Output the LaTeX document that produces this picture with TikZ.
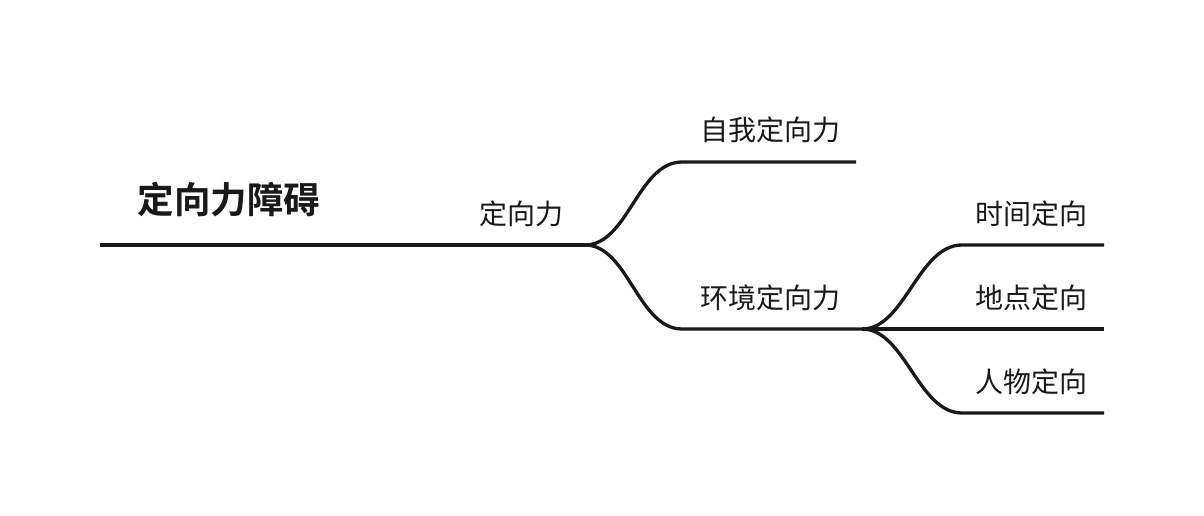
\documentclass[tikz,border=0pt]{standalone}
\usepackage{fontspec}
\newfontfamily\cjk{Noto Sans CJK SC}
\newfontfamily\cjkbold{Noto Sans CJK SC Bold}
\begin{document}
\begin{tikzpicture}[x=1pt,y=1pt,
  branch/.style={draw=black!90, line width=3.3pt, line cap=butt},
  label/.style={inner sep=0pt, font=\cjk\fontsize{28}{28}\selectfont, text=black!90},
  title/.style={inner sep=0pt, font=\cjkbold\fontsize{36.5}{36.5}\selectfont, text=black!90}]
  \useasboundingbox (0,0) rectangle (1204,516);

  % labels
  \node[title] (root) at (229,316) {定向力障碍};
  \node[label] (orient) at (521,302) {定向力};
  \node[label] (self) at (770,386) {自我定向力};
  \node[label] (env) at (770,218) {环境定向力};
  \node[label] (time) at (1031,302) {时间定向};
  \node[label] (place) at (1031,218) {地点定向};
  \node[label] (person) at (1031,134) {人物定向};

  % line ends and fork points
  \coordinate (start) at (100,271);
  \coordinate (fork1) at (585,271);
  \coordinate (selfA) at (682,354);
  \coordinate (selfB) at (856,354);
  \coordinate (envA) at (682,187);
  \coordinate (fork2) at (862,187);
  \coordinate (timeA) at (962,271);
  \coordinate (timeB) at (1104,271);
  \coordinate (placeB) at (1104,187);
  \coordinate (personA) at (962,103);
  \coordinate (personB) at (1104,103);

  % main stem
  \draw[branch] (start) -- (fork1);
  % first level
  \draw[branch] (fork1) .. controls (628,271) and (638,354) .. (selfA) -- (selfB);
  \draw[branch] (fork1) .. controls (628,271) and (638,187) .. (envA) -- (fork2);
  % second level
  \draw[branch] (fork2) .. controls (905,187) and (918,271) .. (timeA) -- (timeB);
  \draw[branch] (fork2) -- (placeB);
  \draw[branch] (fork2) .. controls (905,187) and (918,103) .. (personA) -- (personB);
\end{tikzpicture}
\end{document}
